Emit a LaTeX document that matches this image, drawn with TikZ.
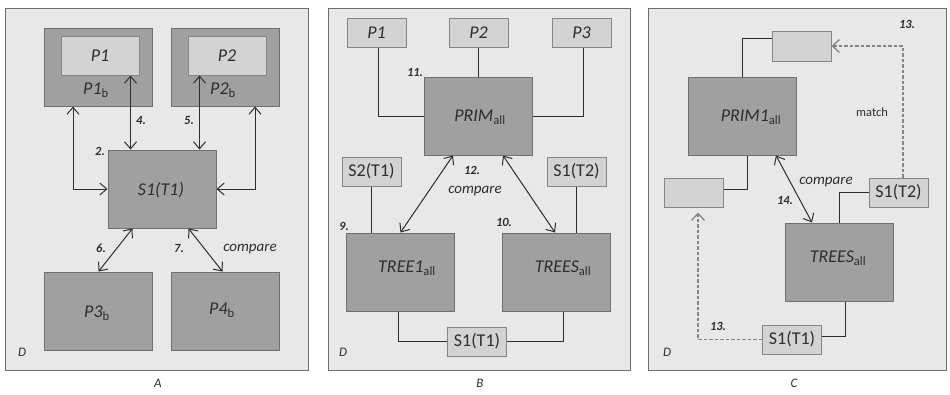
\documentclass[tikz,border=0pt]{standalone}
\usepackage{fontspec}
\setmainfont{Carlito}
\usetikzlibrary{arrows.meta}
\definecolor{panelfill}{HTML}{E8E8E8}
\definecolor{paneldraw}{HTML}{6E6E6E}
\definecolor{darkfill}{HTML}{A0A0A0}
\definecolor{darkdraw}{HTML}{707070}
\definecolor{lightfill}{HTML}{D3D3D3}
\definecolor{lightdraw}{HTML}{858585}
\definecolor{inkgray}{HTML}{2E2E2E}
\definecolor{dashgray}{HTML}{858585}
\tikzset{
  panel/.style={draw=paneldraw,fill=panelfill,line width=1pt},
  darkbox/.style={draw=darkdraw,fill=darkfill,line width=1pt,minimum width=108pt,minimum height=78pt,inner sep=0pt},
  lightbox/.style={draw=lightdraw,fill=lightfill,line width=1pt,minimum width=59pt,minimum height=29pt,inner sep=0pt,text=inkgray,font=\fontsize{18}{20}\selectfont},
  boxtext/.style={text=inkgray,font=\fontsize{18}{20}\selectfont\itshape,inner sep=0pt},
  conn/.style={draw=inkgray,line width=1pt},
  dbl/.style={conn,{Straight Barb[length=7pt,width=12pt]}-{Straight Barb[length=7pt,width=12pt]}},
  dashconn/.style={draw=dashgray,line width=1.3pt,dash pattern=on 3.5pt off 2pt,-{Straight Barb[length=7pt,width=13pt]}},
  num/.style={text=inkgray,font=\fontsize{12.5}{14}\selectfont\bfseries\itshape,inner sep=0pt},
  note/.style={text=inkgray,font=\fontsize{15}{17}\selectfont\itshape,inner sep=0pt},
  tag/.style={text=inkgray,font=\fontsize{13}{15}\selectfont\itshape,inner sep=0pt}
}
\newcommand{\sub}[1]{\textsubscript{\upshape #1}}
\begin{document}
\begin{tikzpicture}[x=1pt,y=-1pt]
  \useasboundingbox (0,0) rectangle (950,394);
  % panel A
  \draw[panel] (5,8) rectangle (308,370);
  \node[darkbox] at (98,67) (aP1b) {};
  \node[lightbox,minimum width=78pt,minimum height=39pt] at (100,55.5) (aP1) {\itshape P1};
  \node[boxtext] at (96,90) (aP1bt) {P1\sub{b}};
  \node[darkbox] at (225,67) (aP2b) {};
  \node[lightbox,minimum width=78pt,minimum height=39pt] at (227,55.5) (aP2) {\itshape P2};
  \node[boxtext] at (223,90) (aP2bt) {P2\sub{b}};
  \node[darkbox] at (162,189) (aS) {};
  \node[boxtext] at (161,190) (aSt) {S1(T1)};
  \node[darkbox] at (98,311) (aP3b) {};
  \node[boxtext] at (97,313) (aP3bt) {P3\sub{b}};
  \node[darkbox] at (225,311) (aP4b) {};
  \node[boxtext] at (222,310) (aP4bt) {P4\sub{b}};
  \draw[dbl] ([xshift=-25pt]aP1b.south) |- (aS.west);
  \draw[dbl] ([xshift=-9pt]aP1.south east) -- ([xshift=-9pt]aP1.south east |- aS.north);
  \draw[dbl] ([xshift=12pt]aP2.south west) -- ([xshift=12pt]aP2.south west |- aS.north);
  \draw[dbl] ([xshift=30pt]aP2b.south) |- (aS.east);
  \draw[dbl] ([xshift=25pt]aS.south west) -- ([xshift=55pt]aP3b.north west);
  \draw[dbl] ([xshift=-28pt]aS.south east) -- ([xshift=52pt]aP4b.north west);
  \node[num] at (100,151) (n2) {2.};
  \node[num] at (141,120) (n4) {4.};
  \node[num] at (189,120) (n5) {5.};
  \node[num] at (101,248) (n6) {6.};
  \node[num] at (179,248) (n7) {7.};
  \node[note] at (250,249) (cmpA) {compare};
  \node[tag] at (22,352) (dA) {D};
  \node[tag] at (158,383) (capA) {A};
  % panel B
  \draw[panel] (328,8) rectangle (630,370);
  \node[lightbox] at (376.5,32.5) (bP1) {\itshape P1};
  \node[lightbox] at (478.5,32.5) (bP2) {\itshape P2};
  \node[lightbox] at (581.5,32.5) (bP3) {\itshape P3};
  \node[darkbox] at (478.5,116) (bPRIM) {};
  \node[boxtext] at (480,117) (bPRIMt) {PRIM\sub{all}};
  \node[lightbox] at (371.5,171.5) (bS2T1) {S2(T1)};
  \node[lightbox] at (576.5,171.5) (bS1T2) {S1(T2)};
  \node[darkbox] at (400.5,272) (bTREE1) {};
  \node[boxtext] at (407,268) (bTREE1t) {TREE1\sub{all}};
  \node[darkbox] at (556.5,272) (bTREES) {};
  \node[boxtext] at (563,268) (bTREESt) {TREES\sub{all}};
  \node[lightbox] at (477,341.5) (bS1T1) {S1(T1)};
  \draw[conn] ([xshift=1.5pt]bP1.south) |- (bPRIM.west);
  \draw[conn] (bP2.south) -- (bPRIM.north);
  \draw[conn] ([xshift=1.5pt]bP3.south) |- (bPRIM.east);
  \draw[conn] (bS2T1.south) -- (bS2T1.south |- bTREE1.north);
  \draw[conn] (bS1T2.south) -- (bS1T2.south |- bTREES.north);
  \draw[conn] ([xshift=-2.5pt]bTREE1.south) |- (bS1T1.west);
  \draw[conn] ([xshift=6.5pt]bTREES.south) |- (bS1T1.east);
  \draw[dbl] ([xshift=-25.5pt]bPRIM.south) -- (bTREE1.north);
  \draw[dbl] ([xshift=24.5pt]bPRIM.south) -- ([xshift=-1.5pt]bTREES.north);
  \node[num] at (415,72) (n11) {11.};
  \node[num] at (472,170) (n12) {12.};
  \node[note] at (475,191) (cmpB) {compare};
  \node[num] at (344,226) (n9) {9.};
  \node[num] at (504,222) (n10) {10.};
  \node[tag] at (343,352) (dB) {D};
  \node[tag] at (480,383) (capB) {B};
  % panel C
  \draw[panel] (648,8) rectangle (946,370);
  \node[lightbox,minimum height=30pt] at (801.5,46) (cTop) {};
  \node[darkbox] at (742,116) (cPRIM) {};
  \node[boxtext] at (751,117) (cPRIMt) {PRIM1\sub{all}};
  \node[lightbox] at (693.5,192.5) (cLeft) {};
  \node[lightbox] at (898.5,192.5) (cS1T2) {S1(T2)};
  \node[darkbox] at (839,262) (cTREES) {};
  \node[boxtext] at (838,258) (cTREESt) {TREES\sub{all}};
  \node[lightbox] at (792,339.5) (cS1T1) {S1(T1)};
  \draw[conn] (cPRIM.north) |- ([yshift=8pt]cTop.west);
  \draw[conn] ([xshift=5pt]cPRIM.south) |- ([yshift=3.5pt]cLeft.east);
  \draw[conn] (cS1T2.west) -| (cTREES.north);
  \draw[conn] ([xshift=6pt]cTREES.south) |- ([yshift=3.5pt]cS1T1.east);
  \draw[dashconn] ([xshift=4.5pt]cS1T2.north) |- (cTop.east);
  \draw[dashconn] (cS1T1.west) -| ([xshift=4.5pt,yshift=-5pt]cLeft.south);
  \draw[dbl] ([xshift=34pt]cPRIM.south) -- ([xshift=-27pt]cTREES.north);
  \node[note] at (826,182) (cmpC) {compare};
  \node[num] at (785,200) (n14) {14.};
  \node[num] at (907,24) (n13a) {13.};
  \node[text=inkgray,font=\fontsize{12.5}{14}\selectfont,inner sep=0pt] at (872,112) (mtc) {match};
  \node[num] at (718,326) (n13b) {13.};
  \node[tag] at (667,352) (dC) {D};
  \node[tag] at (794,383) (capC) {C};
\end{tikzpicture}
\end{document}
